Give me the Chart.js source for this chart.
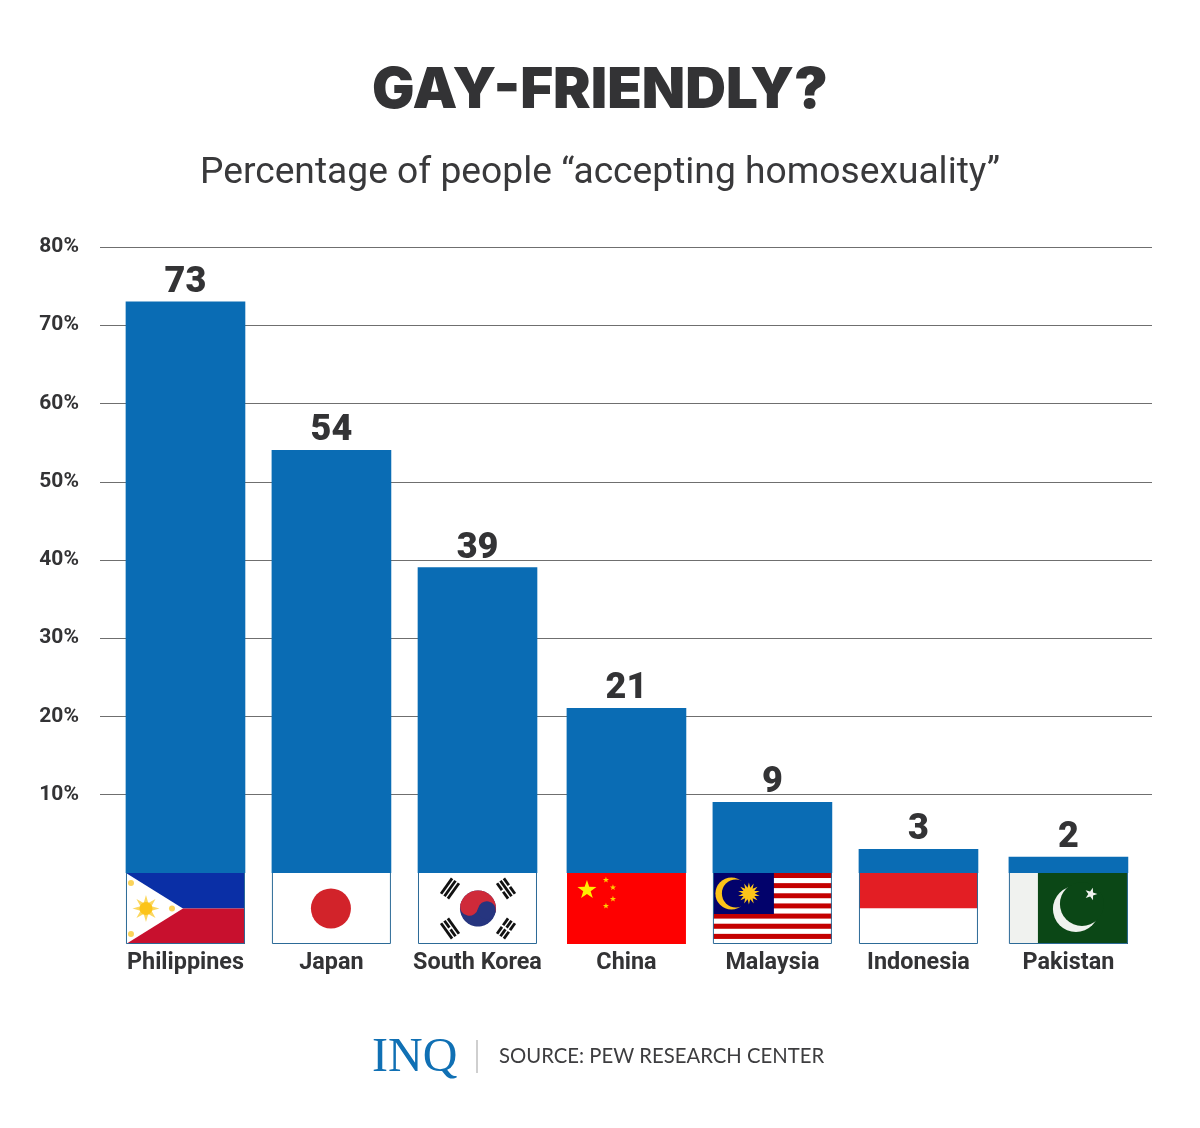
<!DOCTYPE html>
<html><head><meta charset="utf-8">
<style>html,body{margin:0;padding:0;background:#fff}canvas{display:block}</style>
<script src="https://cdn.jsdelivr.net/npm/chart.js@4"></script>
</head><body>
<canvas id="c" width="1200" height="1128"></canvas>
<script>
const categories = ['Philippines','Japan','South Korea','China','Malaysia','Indonesia','Pakistan'];
const acceptance = [73,54,39,21,9,3,2];
const yTickValues = [10,20,30,40,50,60,70,80];
const titleText = 'GAY-FRIENDLY?';
const subtitleText = 'Percentage of people “accepting homosexuality”';
const sourceText = 'SOURCE: PEW RESEARCH CENTER';
const logoText = 'INQ';

const INK = '#333335', BLUE = '#0a6cb4';
const FLAG_FLOOR = -9.12;
// the original's columns are hand-placed, slightly off an even rhythm
const columnNudge = [0,-1.2,-2.3,-0.5,-1.7,-2.8,0];

class NudgedCategory extends Chart.CategoryScale {
  getPixelForValue(v){ return super.getPixelForValue(v) + (columnNudge[v]||0); }
}
NudgedCategory.id = 'nudgedCategory';
NudgedCategory.defaults = Chart.CategoryScale.defaults;
Chart.register(NudgedCategory);

function star(g,cx,cy,R,r,n,rot,col){
  g.fillStyle=col; g.beginPath();
  for(let i=0;i<n*2;i++){
    const a=(rot||-Math.PI/2)+i*Math.PI/n, q=i%2?r:R;
    g[i?'lineTo':'moveTo'](cx+q*Math.cos(a),cy+q*Math.sin(a));
  }
  g.closePath(); g.fill();
}
function disc(g,x,y,r,c){g.fillStyle=c;g.beginPath();g.arc(x,y,r,0,Math.PI*2);g.fill();}
function trigram(g,cx,cy,ang,pattern){
  g.save();g.translate(cx,cy);g.rotate(ang);g.fillStyle='#111';
  pattern.forEach((broken,i)=>{
    const y=-5.6+i*4.2;
    if(broken){g.fillRect(-9.5,y,8.5,2.8);g.fillRect(1,y,8.5,2.8);}
    else g.fillRect(-9.5,y,19,2.8);
  });
  g.restore();
}
const flags = {
  Philippines(g,w,h){
    g.fillStyle='#0a2fa6';g.fillRect(0,0,w,h/2);
    g.fillStyle='#c8102e';g.fillRect(0,h/2,w,h/2);
    g.fillStyle='#fff';g.beginPath();g.moveTo(0,0);g.lineTo(57,h/2);g.lineTo(0,h);g.closePath();g.fill();
    star(g,20,h/2,13.5,6,8,0,'#fbd75f');disc(g,20,h/2,6.5,'#fcc419');
    [[5,10],[5,h-10],[46,h/2]].forEach(p=>disc(g,p[0],p[1],3,'#fbd35a'));
  },
  Japan(g,w,h){
    g.fillStyle='#fff';g.fillRect(0,0,w,h);disc(g,w/2-0.5,h/2,20,'#d2232a');
  },
  'South Korea'(g,w,h){
    g.fillStyle='#fff';g.fillRect(0,0,w,h);
    const x=w/2+0.5,y=h/2,r=18;
    g.save();g.translate(x,y);g.rotate(0.2);
    disc(g,0,0,r,'#26357f');
    g.fillStyle='#cf2a3a';g.beginPath();g.arc(0,0,r,Math.PI,0);g.fill();
    disc(g,-r/2,0,r/2,'#cf2a3a');disc(g,r/2,0,r/2,'#26357f');
    g.restore();
    trigram(g,x-28,y-20,-Math.PI/3.3,[0,0,0]);
    trigram(g,x+28,y-20,Math.PI/3.3,[1,0,1]);
    trigram(g,x-28,y+20,Math.PI/3.3,[0,1,0]);
    trigram(g,x+28,y+20,-Math.PI/3.3,[1,1,1]);
  },
  China(g,w,h){
    g.fillStyle='#fe0000';g.fillRect(0,0,w,h);
    star(g,20,17,10,3.9,5,0,'#ffee00');
    [[39,7],[46,14.5],[46,26],[39,33]].forEach(p=>star(g,p[0],p[1],3.2,1.3,5,0,'#ffcc00'));
  },
  Malaysia(g,w,h){
    const s=h/14;
    for(let i=0;i<14;i++){g.fillStyle=i%2?'#fff':'#c40000';g.fillRect(0,i*s,w,s+0.3);}
    g.fillStyle='#02026b';g.fillRect(0,0,61,41);
    disc(g,18.5,20.5,16,'#fcc419');disc(g,23,20.5,14,'#02026b');
    star(g,36,20.5,11,6,14,0,'#fcc419');
  },
  Indonesia(g,w,h){
    g.fillStyle='#e31e24';g.fillRect(0,0,w,h/2);
    g.fillStyle='#fff';g.fillRect(0,h/2,w,h/2);
  },
  Pakistan(g,w,h){
    g.fillStyle='#f0f2ef';g.fillRect(0,0,29,h);
    g.fillStyle='#0b4716';g.fillRect(29,0,w-29,h);
    disc(g,67,36,23,'#f0f2ef');disc(g,73,31,22,'#0b4716');
    star(g,82,21,6.5,2.6,5,-Math.PI/2+0.3,'#f0f2ef');
  }
};

const gridPlugin = {
  id:'extendedGrid',
  beforeDatasetsDraw(chart){
    const g=chart.ctx,y=chart.scales.y;
    g.save();g.strokeStyle='#6f6f6f';g.lineWidth=1;
    y.ticks.forEach(t=>{
      const p=Math.round(y.getPixelForValue(t.value))+0.5;
      g.beginPath();g.moveTo(100,p);g.lineTo(1152,p);g.stroke();
    });
    g.restore();
  }
};
const markPlugin = {
  id:'flagsAndValues',
  afterDatasetsDraw(chart){
    const g=chart.ctx,y=chart.scales.y,bars=chart.getDatasetMeta(0).data;
    const top=Math.round(y.getPixelForValue(0)),bottom=Math.round(y.getPixelForValue(FLAG_FLOOR));
    bars.forEach((b,i)=>{
      const w=b.width,h=bottom-top,x=b.x-w/2;
      g.save();g.translate(x,top);
      g.beginPath();g.rect(0,0,w,h);g.clip();
      flags[categories[i]](g,w,h);
      g.restore();
      if(categories[i]!=='China'){
        g.save();g.strokeStyle='#2c6a97';g.lineWidth=1;
        g.beginPath();
        g.moveTo(x+.5,top);g.lineTo(x+.5,bottom-.5);g.lineTo(x+w-.5,bottom-.5);g.lineTo(x+w-.5,top);
        g.stroke();g.restore();
      }
      g.save();g.fillStyle=INK;g.font='900 36px Roboto';g.textAlign='center';g.textBaseline='alphabetic';
      g.fillText(String(acceptance[i]),b.x,b.y-10);
      g.restore();
    });
  }
};
const footerPlugin = {
  id:'footer',
  afterDraw(chart){
    const g=chart.ctx;
    g.save();g.textBaseline='alphabetic';
    g.fillStyle='#1070b4';g.font='48px "Liberation Serif"';g.textAlign='left';
    g.fillText(logoText,372,1071);
    g.fillStyle='#cfcfcf';g.fillRect(476,1040,2,33);
    g.fillStyle='#3d3d3f';g.font='20.3px Lato';
    g.fillText(sourceText,499,1063);
    g.restore();
  }
};

new Chart(document.getElementById('c'),{
  type:'bar',
  data:{labels:categories,datasets:[{data:acceptance,backgroundColor:BLUE,borderWidth:0,barThickness:119,yAxisID:'y'}]},
  plugins:[gridPlugin,markPlugin,footerPlugin],
  options:{
    responsive:false,animation:false,devicePixelRatio:1,
    layout:{autoPadding:false,padding:{top:57,left:0,right:0,bottom:0}},
    plugins:{
      legend:{display:false},tooltip:{enabled:false},
      title:{display:true,text:titleText,color:INK,font:{family:'Inter',weight:'900',size:56.4,lineHeight:1.2},padding:{top:0,bottom:26.7}},
      subtitle:{display:true,text:subtitleText,color:'#39393b',font:{family:'Roboto',weight:'400',size:37.2,lineHeight:1.2},padding:{top:0,bottom:51}}
    },
    scales:{
      x:{type:'nudgedCategory',grid:{display:false},border:{display:false},
        afterFit(s){s.height=184;},
        ticks:{color:INK,font:{family:'Roboto',weight:'700',size:23.4},padding:-3,maxRotation:0,autoSkip:false}},
      y:{min:FLAG_FLOOR,max:80,grid:{display:false},border:{display:false},
        afterFit(s){s.width=111.9;},
        afterBuildTicks(s){s.ticks=yTickValues.map(v=>({value:v}));},
        ticks:{color:INK,font:{family:'Roboto',weight:'700',size:21},padding:25,callback:v=>v+'%'}},
      rightGutter:{position:'right',display:true,grid:{display:false},border:{display:false},
        ticks:{display:false},afterFit(s){s.width=58;}}
    }
  }
});
</script>
</body></html>
